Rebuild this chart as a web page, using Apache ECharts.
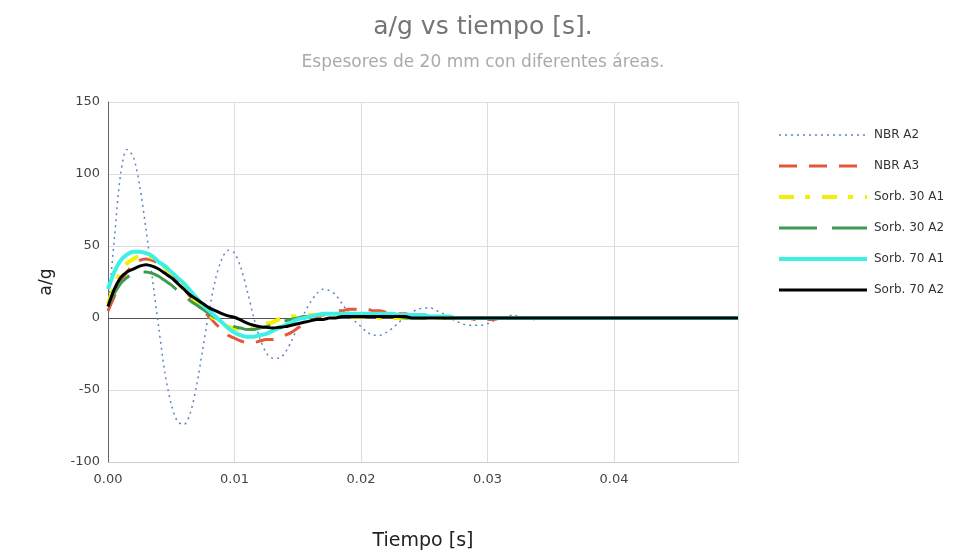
<!DOCTYPE html>
<html><head><meta charset="utf-8">
<script src="https://cdn.jsdelivr.net/npm/echarts@6/dist/echarts.min.js"></script>
<style>html,body{margin:0;padding:0;background:#fff}#c{width:966px;height:556px}</style>
</head><body><div id="c"></div>
<script>
const tiempo = [0,0.0005,0.001,0.0015,0.002,0.0025,0.003,0.0035,0.004,0.0045,0.005,0.0055,0.006,0.0065,0.007,0.0075,0.008,0.0085,0.009,0.0095,0.01,0.0105,0.011,0.0115,0.012,0.0125,0.013,0.0135,0.014,0.0145,0.015,0.0155,0.016,0.0165,0.017,0.0175,0.018,0.0185,0.019,0.0195,0.02,0.0205,0.021,0.0215,0.022,0.0225,0.023,0.0235,0.024,0.0245,0.025,0.0255,0.026,0.0265,0.027,0.0275,0.028,0.0285,0.029,0.0295,0.03,0.0305,0.031,0.0315,0.032,0.0325,0.033,0.0335,0.034,0.0345,0.035,0.0375,0.04,0.0425,0.045,0.0475,0.0498];
const nbrA2 = [5,55,100,117,112,92,62,28,-6,-38,-60,-72,-74,-66,-47,-21,5,27,41,47,45,35,19,1,-14,-24,-28,-28,-24,-16,-6,3,11,17,20,19,16,10,4,-2,-6,-10,-12,-12,-10,-7,-3,1,4,6,7,7,5,3,0,-2,-4,-5,-5,-5,-4,-2,0,1,2,1,0,-1,-1,0,0,0,0,0,0,0,0];
const nbrA3 = [5,15,25,32,37,40,41,40,38,34,30,25,20,15,10,5,1,-4,-8,-12,-14,-16,-17,-17,-16,-15,-15,-14,-12,-10,-7,-4,-2,0,2,4,5,5,6,6,6,6,5,5,4,4,3,3,2,2,1,1,1,0,0,0,0,0,-1,-1,-1,-1,0,0,0,0,0,0,0,0,0,0,0,0,0,0,0];
const sorb30A1 = [10,22,32,38,41,43,43,42,39,35,30,25,20,15,10,6,2,-1,-4,-6,-7,-8,-8,-7,-6,-4,-3,-1,0,1,1,2,2,2,2,2,2,2,1,1,1,1,1,0,0,0,0,0,0,0,0,0,0,0,0,0,0,0,0,0,0,0,0,0,0,0,0,0,0,0,0,0,0,0,0,0,0];
const sorb30A2 = [8,17,24,28,31,32,32,31,29,26,23,19,16,12,9,6,3,0,-2,-4,-6,-7,-8,-8,-7,-6,-5,-3,-2,-1,0,1,1,2,2,3,3,3,3,2,2,2,2,1,1,1,1,0,0,0,0,0,0,0,0,0,0,0,0,0,0,0,0,0,0,0,0,0,0,0,0,0,0,0,0,0,0];
const sorb70A1 = [20,32,40,44,46,46,45,43,39,36,32,28,24,19,14,9,5,1,-3,-7,-10,-12,-13,-13,-12,-11,-9,-7,-5,-3,-1,0,1,2,3,3,3,3,3,3,3,3,3,3,3,3,2,2,2,2,2,1,1,1,1,0,0,0,0,0,0,0,0,0,0,0,0,0,0,0,0,0,0,0,0,0,0];
const sorb70A2 = [8,20,28,32,34,36,37,36,34,31,28,24,20,16,13,10,7,5,3,1.5,0.5,-1.5,-3.5,-5,-6,-6.5,-7,-6.5,-6,-5,-4,-3,-2,-1,-1,0,0,1,1,1,1,1,1,1,1,1,1,1,0,0,0,0,0,0,0,0,0,0,0,0,0,0,0,0,0,0,0,0,0,0,0,0,0,0,0,0,0];
const xTicks = ['0.00','0.01','0.02','0.03','0.04'];
const seriesNames = ['NBR A2','NBR A3','Sorb. 30 A1','Sorb. 30 A2','Sorb. 70 A1','Sorb. 70 A2'];
const seriesValues = [nbrA2,nbrA3,sorb30A1,sorb30A2,sorb70A1,sorb70A2];
const styles = [
  {color:'#5f86b8', width:1.5, type:[2,4]},
  {color:'#e4573a', width:3, type:[18,12]},
  {color:'#f4ef00', width:4, type:[15,11,5,12]},
  {color:'#3e9a52', width:3, type:[38,15]},
  {color:'#3ef0e4', width:4, type:'solid'},
  {color:'#000000', width:3, type:'solid'}
];
const series = seriesNames.map((n,k)=>({
  name:n, type:'line', showSymbol:false, symbol:'none', smooth:0.3,
  data: tiempo.map((t,i)=>[t, seriesValues[k][i]]),
  itemStyle:{color:styles[k].color},
  lineStyle:{color:styles[k].color, width:styles[k].width, type:styles[k].type},
  z: 3+k
}));
series[0].markLine = {silent:true, symbol:'none', label:{show:false}, lineStyle:{color:'#555', width:1, type:'solid'}, data:[{yAxis:0}], z:1};
const FONT = '"DejaVu Sans", Verdana, sans-serif';
const chart = echarts.init(document.getElementById('c'));
chart.setOption({
  backgroundColor:'#fff',
  animation:false,
  textStyle:{fontFamily:FONT},
  title:{text:'a/g vs tiempo [s].', subtext:'Espesores de 20 mm con diferentes áreas.', left:'center', top:10,
    textStyle:{fontSize:25, fontWeight:'normal', color:'#757575', fontFamily:FONT},
    subtextStyle:{fontSize:17, color:'#aaaaaa', fontFamily:FONT}, itemGap:14},
  legend:{orient:'vertical', left:772, top:124, itemWidth:88, itemHeight:14, itemGap:19,
    itemStyle:{opacity:0},
    lineStyle:{width:'inherit'},
    textStyle:{fontSize:12, color:'#333', fontFamily:FONT, padding:[0,0,0,2]}, data:seriesNames},
  grid:{left:108, right:228, top:102, bottom:87},
  xAxis:{type:'value', min:0, max:0.0498, interval:0.01, name:'Tiempo [s]', nameLocation:'middle', nameGap:70,
    nameTextStyle:{fontSize:19, color:'#222', fontFamily:FONT},
    axisLine:{show:true, onZero:false, lineStyle:{color:'#ccc'}}, axisTick:{show:false},
    axisLabel:{fontSize:13, color:'#444', margin:11, formatter:v=>v.toFixed(2), showMaxLabel:false, fontFamily:FONT},
    splitLine:{show:true, lineStyle:{color:'#ddd'}}},
  yAxis:{type:'value', min:-100, max:150, interval:50, name:'a/g', nameLocation:'middle', nameGap:53,
    nameTextStyle:{fontSize:17, color:'#222', fontFamily:FONT},
    axisLine:{show:true, lineStyle:{color:'#666'}}, axisTick:{show:false},
    axisLabel:{fontSize:13, color:'#444', margin:8, fontFamily:FONT},
    splitLine:{show:true, lineStyle:{color:'#ddd'}}},
  series:series
});
</script></body></html>
